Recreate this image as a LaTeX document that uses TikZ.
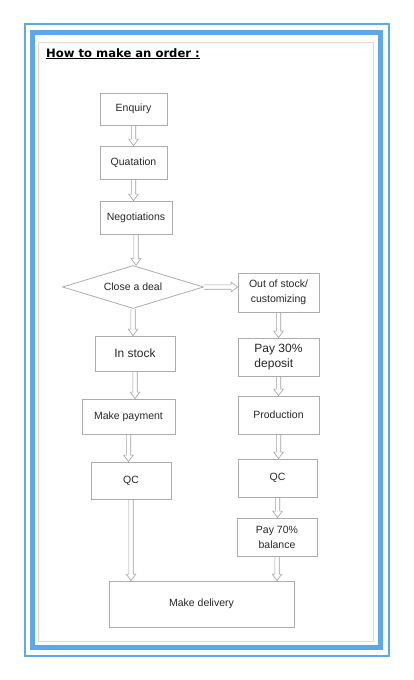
\documentclass[tikz,border=0pt]{standalone}
\usepackage{fontspec}
\setmainfont{Liberation Sans}
\newfontfamily\titlefont{DejaVu Sans}
\usetikzlibrary{shapes.geometric,calc}
\definecolor{frameblue}{RGB}{92,168,232}
\definecolor{peach}{RGB}{244,214,190}
\begin{document}
\begin{tikzpicture}[x=1pt,y=-1pt,font=\fontsize{10.5}{15}\selectfont,
  bx/.style={draw=gray!65,line width=0.8pt,text=black!85,minimum width=#1,inner sep=1pt,align=center},
  flow/.style={draw=gray!75,line width=0.6pt,line join=miter},
  flowdown/.style={to path={let \p1=(\tikztostart),\p2=(\tikztotarget) in (\x1-2.2pt,\y1) -- (\x1-2.2pt,\y2+6.5pt) -- (\x1-4.8pt,\y2+6.5pt) -- (\x1,\y2) -- (\x1+4.8pt,\y2+6.5pt) -- (\x1+2.2pt,\y2+6.5pt) -- (\x1+2.2pt,\y1)}},
  flowright/.style={to path={let \p1=(\tikztostart),\p2=(\tikztotarget) in (\x1,\y1+2.2pt) -- (\x2-6.5pt,\y1+2.2pt) -- (\x2-6.5pt,\y1+4.8pt) -- (\x2,\y1) -- (\x2-6.5pt,\y1-4.8pt) -- (\x2-6.5pt,\y1-2.2pt) -- (\x1,\y1-2.2pt)}}]
  \useasboundingbox (0,0) rectangle (414,680);
  \draw[frameblue,line width=1.5pt] (25,24) rectangle (389,656);
  \draw[frameblue,line width=5pt] (32.5,32) rectangle (380.5,647);
  \draw[peach,line width=0.8pt] (38,42) rectangle (373,641);
  \node[anchor=base west,inner sep=0pt,font=\titlefont\bfseries\fontsize{11.6}{13}\selectfont] (title) at (46,57){\underline{How to make an order :}};
  \node[bx=67pt,minimum height=32pt] (enq) at (133.5,109){Enquiry};
  \node[bx=67pt,minimum height=33pt] (quo) at (133.5,162.5){Quatation};
  \node[bx=72pt,minimum height=33pt] (neg) at (136,217.5){Negotiations};
  \node[draw=gray!65,line width=0.8pt,text=black!85,diamond,aspect=3.3,inner sep=0pt,minimum width=141pt,minimum height=43pt] (deal) at (133,287){Close a deal};
  \node[bx=81pt,minimum height=39pt] (oos) at (278.5,292.5){Out of stock/\\customizing};
  \node[bx=80pt,minimum height=35pt,font=\fontsize{12}{15}\selectfont] (ins) at (135,353.5){In stock};
  \node[bx=81pt,minimum height=38pt,font=\fontsize{12}{15}\selectfont] (pay30) at (278.5,357){\raisebox{-5.5pt}{\begin{tabular}{@{}l@{}}Pay 30\%\\deposit\end{tabular}}};
  \node[bx=93pt,minimum height=35pt] (mpay) at (128.5,416.5){Make payment};
  \node[bx=81pt,minimum height=38pt] (prod) at (278.5,415){Production};
  \node[bx=80pt,minimum height=37pt] (qcl) at (131,480.5){QC};
  \node[bx=79pt,minimum height=38pt] (qcr) at (277.5,478){QC};
  \node[bx=80pt,minimum height=38pt] (pay70) at (277,537){Pay 70\%\\balance};
  \node[bx=185pt,minimum height=46pt] (del) at (201.5,604){Make delivery};
  \draw[flow] (enq.south) to[flowdown] (quo.north);
  \draw[flow] (quo.south) to[flowdown] (quo.south |- neg.north);
  \draw[flow] (neg.south) to[flowdown] (neg.south |- deal.north);
  \draw[flow] (deal.east) to[flowright] (deal.east -| oos.west);
  \draw[flow] (deal.south) to[flowdown] (deal.south |- ins.north);
  \draw[flow] (oos.south) to[flowdown] (pay30.north);
  \draw[flow] (ins.south) to[flowdown] (ins.south |- mpay.north);
  \draw[flow] (pay30.south) to[flowdown] (prod.north);
  \draw[flow] (mpay.south) to[flowdown] (mpay.south |- qcl.north);
  \draw[flow] (prod.south) to[flowdown] (prod.south |- qcr.north);
  \draw[flow] (qcl.south) to[flowdown] (qcl.south |- del.north);
  \draw[flow] (qcr.south) to[flowdown] (qcr.south |- pay70.north);
  \draw[flow] (pay70.south) to[flowdown] (pay70.south |- del.north);
\end{tikzpicture}
\end{document}
